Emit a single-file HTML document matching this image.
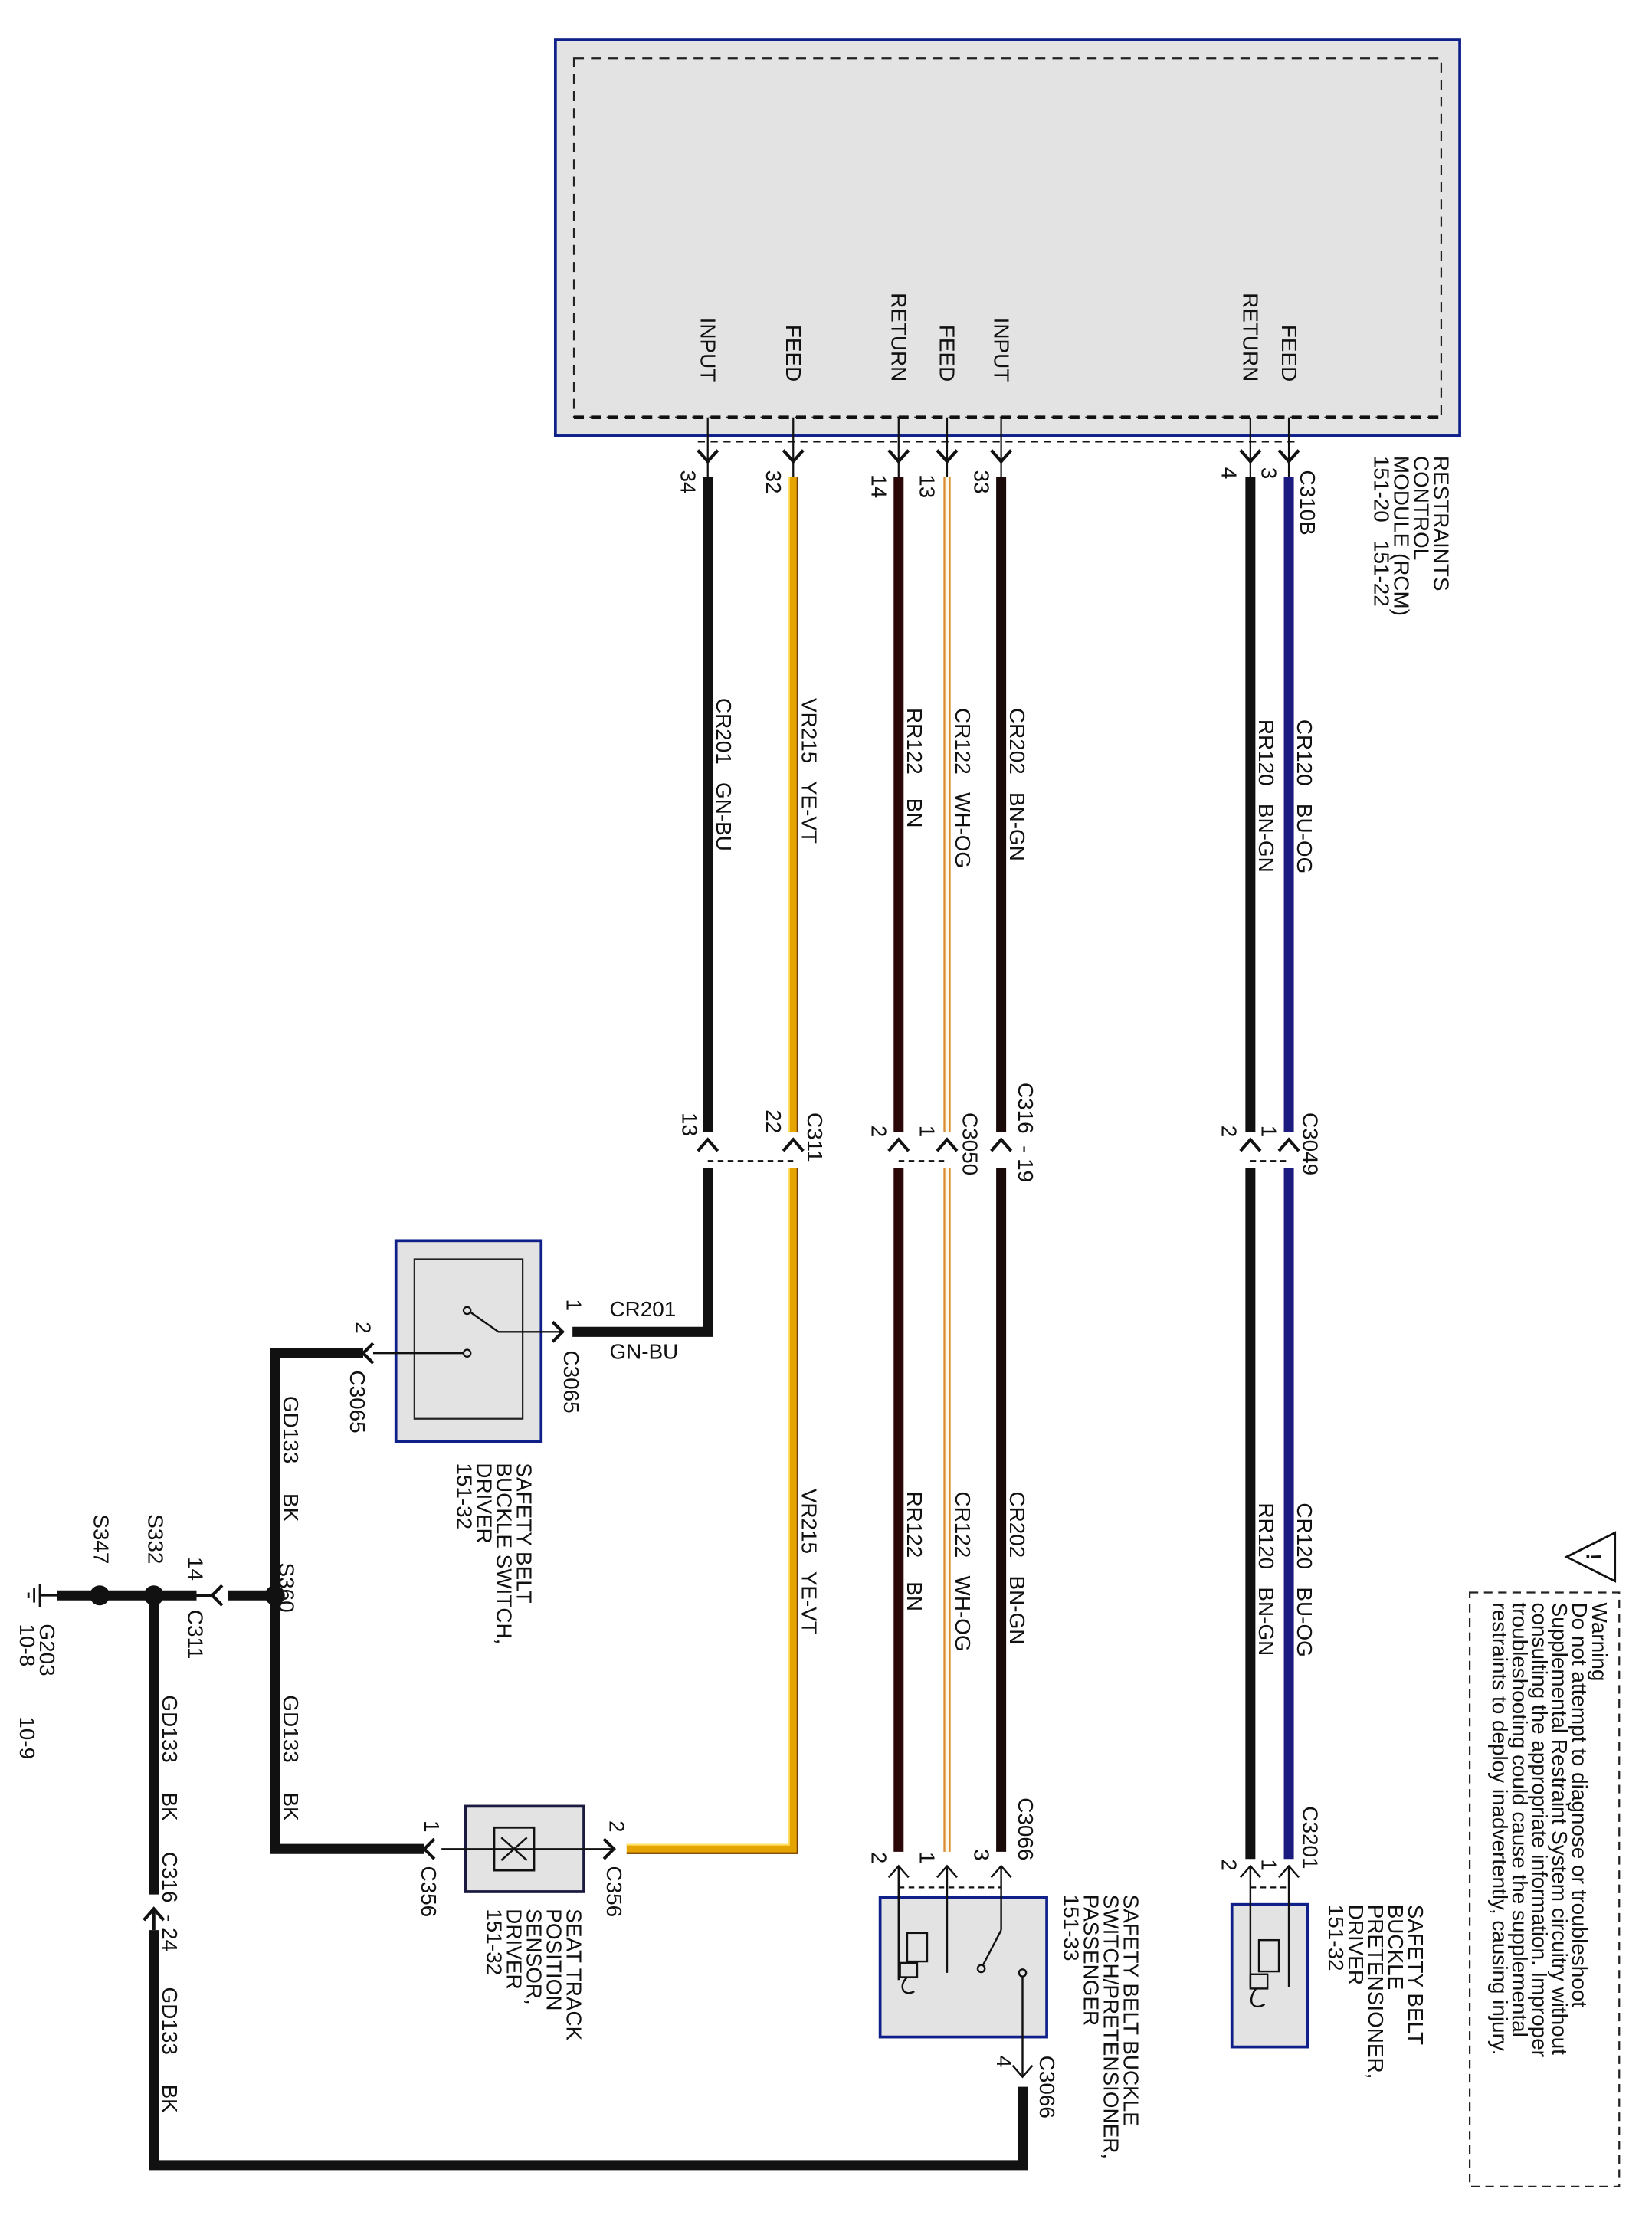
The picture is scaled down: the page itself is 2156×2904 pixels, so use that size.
<!DOCTYPE html>
<html><head><meta charset="utf-8"><style>
html,body{margin:0;padding:0;background:#fff}
svg{display:block}
text{font-family:"Liberation Sans",Arial,sans-serif;font-size:15px;fill:#111;white-space:pre}
</style></head><body>
<svg width="2156" height="2904" viewBox="0 0 1160 1562" preserveAspectRatio="none" xmlns="http://www.w3.org/2000/svg" xml:space="preserve">
<rect width="1160" height="1562" fill="#fff"/>
<rect x="390" y="28" width="635" height="278" fill="#e3e3e3" stroke="#10208a" stroke-width="2"/>
<rect x="403" y="41" width="609" height="252" fill="none" stroke="#222" stroke-width="1.2" stroke-dasharray="7,5"/>
<line x1="403" y1="293" x2="1012" y2="293" stroke="#111" stroke-width="2.5" stroke-dasharray="7,5"/>
<line x1="490" y1="310" x2="912" y2="310" stroke="#111" stroke-width="1.2" stroke-dasharray="5,4"/>
<g stroke="#111" stroke-width="1.2" fill="none">
<line x1="497" y1="293" x2="497" y2="335"/><line x1="557" y1="293" x2="557" y2="335"/>
<line x1="631" y1="293" x2="631" y2="335"/><line x1="665" y1="293" x2="665" y2="335"/>
<line x1="703" y1="293" x2="703" y2="335"/><line x1="878" y1="293" x2="878" y2="335"/>
<line x1="905" y1="293" x2="905" y2="335"/>
</g>
<g stroke="#111" stroke-width="2.2" fill="none">
<path d="M490,316 L497,324 L504,316"/><path d="M550,316 L557,324 L564,316"/>
<path d="M624,316 L631,324 L638,316"/><path d="M658,316 L665,324 L672,316"/>
<path d="M696,316 L703,324 L710,316"/><path d="M871,316 L878,324 L885,316"/>
<path d="M898,316 L905,324 L912,316"/>
</g>
<g>
<text transform="translate(492,268) rotate(90)" text-anchor="end">INPUT</text>
<text transform="translate(552,268) rotate(90)" text-anchor="end">FEED</text>
<text transform="translate(626,268) rotate(90)" text-anchor="end">RETURN</text>
<text transform="translate(660,268) rotate(90)" text-anchor="end">FEED</text>
<text transform="translate(698,268) rotate(90)" text-anchor="end">INPUT</text>
<text transform="translate(873,268) rotate(90)" text-anchor="end">RETURN</text>
<text transform="translate(900,268) rotate(90)" text-anchor="end">FEED</text>
</g>
<g font-size="14">
<text transform="translate(1007,320) rotate(90)">RESTRAINTS</text>
<text transform="translate(993,320) rotate(90)">CONTROL</text>
<text transform="translate(979,320) rotate(90)">MODULE (RCM)</text>
<text transform="translate(965,320) rotate(90)">151-20   151-22</text>
<text transform="translate(913,330) rotate(90)">C310B</text>
<text transform="translate(478,330) rotate(90)">34</text>
<text transform="translate(538,330) rotate(90)">32</text>
<text transform="translate(612,333) rotate(90)">14</text>
<text transform="translate(646,333) rotate(90)">13</text>
<text transform="translate(684,330) rotate(90)">33</text>
<text transform="translate(858,328) rotate(90)">4</text>
<text transform="translate(886,328) rotate(90)">3</text>
</g>
<g>
<line x1="497" y1="335" x2="497" y2="795" stroke="#111" stroke-width="7"/>
<line x1="557" y1="335" x2="557" y2="795" stroke="#e6a400" stroke-width="7"/>
<line x1="560" y1="335" x2="560" y2="795" stroke="#7a4000" stroke-width="1.2"/>
<line x1="554" y1="335" x2="554" y2="795" stroke="#ffe060" stroke-width="1.2"/>
<line x1="631" y1="335" x2="631" y2="795" stroke="#2b0808" stroke-width="7"/>
<line x1="665" y1="335" x2="665" y2="795" stroke="#d98c30" stroke-width="5"/>
<line x1="665" y1="335" x2="665" y2="795" stroke="#fff8e8" stroke-width="2.5"/>
<line x1="703" y1="335" x2="703" y2="795" stroke="#1a0a0a" stroke-width="7"/>
<line x1="878" y1="335" x2="878" y2="795" stroke="#111" stroke-width="7"/>
<line x1="905" y1="335" x2="905" y2="795" stroke="#1a1a80" stroke-width="7"/>
</g>
<g stroke="#111" stroke-width="2.2" fill="none">
<path d="M490,808 L497,800 L504,808"/><path d="M550,808 L557,800 L564,808"/>
<path d="M624,808 L631,800 L638,808"/><path d="M658,808 L665,800 L672,808"/>
<path d="M696,808 L703,800 L710,808"/><path d="M871,808 L878,800 L885,808"/>
<path d="M898,808 L905,800 L912,808"/>
</g>
<g stroke="#111" stroke-width="1.2" stroke-dasharray="4,3">
<line x1="497" y1="815" x2="557" y2="815"/><line x1="631" y1="815" x2="665" y2="815"/>
<line x1="878" y1="815" x2="905" y2="815"/>
</g>
<g font-size="14">
<text transform="translate(479,781) rotate(90)">13</text>
<text transform="translate(538,779) rotate(90)">22</text>
<text transform="translate(567,781) rotate(90)">C311</text>
<text transform="translate(612,790) rotate(90)">2</text>
<text transform="translate(646,790) rotate(90)">1</text>
<text transform="translate(676,781) rotate(90)">C3050</text>
<text transform="translate(715,760) rotate(90)">C316  - 19</text>
<text transform="translate(858,790) rotate(90)">2</text>
<text transform="translate(886,790) rotate(90)">1</text>
<text transform="translate(915,781) rotate(90)">C3049</text>
</g>
<g font-size="15">
<text transform="translate(503,490) rotate(90)">CR201   GN-BU</text>
<text transform="translate(563,490) rotate(90)">VR215   YE-VT</text>
<text transform="translate(637,497) rotate(90)">RR122    BN</text>
<text transform="translate(671,497) rotate(90)">CR122   WH-OG</text>
<text transform="translate(709,497) rotate(90)">CR202   BN-GN</text>
<text transform="translate(884,505) rotate(90)">RR120   BN-GN</text>
<text transform="translate(911,505) rotate(90)">CR120   BU-OG</text>
<text transform="translate(563,1045) rotate(90)">VR215   YE-VT</text>
<text transform="translate(637,1047) rotate(90)">RR122    BN</text>
<text transform="translate(671,1047) rotate(90)">CR122   WH-OG</text>
<text transform="translate(709,1047) rotate(90)">CR202   BN-GN</text>
<text transform="translate(884,1055) rotate(90)">RR120   BN-GN</text>
<text transform="translate(911,1055) rotate(90)">CR120   BU-OG</text>
</g>
<g fill="none">
<polyline points="497,820 497,935 402,935" stroke="#111" stroke-width="7"/>
<polyline points="557,820 557,1298 440,1298" stroke="#e6a400" stroke-width="7"/>
<polyline points="560,820 560,1301 440,1301" stroke="#7a4000" stroke-width="1.2"/>
<polyline points="554,820 554,1295 440,1295" stroke="#ffe060" stroke-width="1.2"/>
<line x1="631" y1="820" x2="631" y2="1300" stroke="#2b0808" stroke-width="7"/>
<line x1="665" y1="820" x2="665" y2="1300" stroke="#d98c30" stroke-width="5"/>
<line x1="665" y1="820" x2="665" y2="1300" stroke="#fff8e8" stroke-width="2.5"/>
<line x1="703" y1="820" x2="703" y2="1300" stroke="#1a0a0a" stroke-width="7"/>
<line x1="878" y1="820" x2="878" y2="1305" stroke="#111" stroke-width="7"/>
<line x1="905" y1="820" x2="905" y2="1305" stroke="#1a1a80" stroke-width="7"/>
<polyline points="255,950 193,950 193,1298 298,1298" stroke="#111" stroke-width="7"/>
<line x1="40" y1="1120" x2="190" y2="1120" stroke="#111" stroke-width="7"/>
<polyline points="108,1120 108,1330" stroke="#111" stroke-width="7"/>
<polyline points="108,1355 108,1520 718,1520 718,1465" stroke="#111" stroke-width="7"/>
</g>
<circle cx="193" cy="1120" r="7" fill="#111"/>
<circle cx="108" cy="1120" r="7" fill="#111"/>
<circle cx="70" cy="1120" r="7" fill="#111"/>
<rect x="138" y="1115" width="22" height="10" fill="#fff"/>
<path d="M156,1113 L149,1120 L156,1127 M149,1120 L138,1120" stroke="#111" stroke-width="2.2" fill="none"/>
<g stroke="#111" stroke-width="1.5"><line x1="28" y1="1120" x2="40" y2="1120"/><line x1="28" y1="1112" x2="28" y2="1128"/><line x1="24" y1="1115" x2="24" y2="1125"/><line x1="20" y1="1118" x2="20" y2="1122"/></g>
<rect x="100" y="1332" width="16" height="20" fill="#fff"/>
<path d="M101,1348 L108,1340 L115,1348 M108,1340 L108,1355" stroke="#111" stroke-width="2.2" fill="none"/>
<g font-size="14">
<text transform="translate(196,1097) rotate(90)">S360</text>
<text transform="translate(132,1093) rotate(90)">14</text>
<text transform="translate(132,1130) rotate(90)">C311</text>
<text transform="translate(104,1063) rotate(90)">S332</text>
<text transform="translate(66,1063) rotate(90)">S347</text>
<text transform="translate(28,1140) rotate(90)">G203</text>
<text transform="translate(14,1140) rotate(90)">10-8</text>
<text transform="translate(14,1205) rotate(90)">10-9</text>
<text transform="translate(199,980) rotate(90)">GD133     BK</text>
<text transform="translate(199,1190) rotate(90)">GD133     BK</text>
<text transform="translate(114,1190) rotate(90)">GD133     BK</text>
<text transform="translate(114,1300) rotate(90)">C316  - 24</text>
<text transform="translate(114,1395) rotate(90)">GD133     BK</text>
</g>
<rect x="278" y="871" width="102" height="141" fill="#e3e3e3" stroke="#10208a" stroke-width="2"/>
<rect x="291" y="884" width="76" height="112" fill="none" stroke="#222" stroke-width="1.2"/>
<circle cx="328" cy="920" r="2.5" fill="none" stroke="#111" stroke-width="1.2"/>
<circle cx="328" cy="950" r="2.5" fill="none" stroke="#111" stroke-width="1.2"/>
<path d="M330,921 L350,935 L395,935 M326,950 L262,950" stroke="#111" stroke-width="1.3" fill="none"/>
<path d="M388,928 L395,935 L388,942 M262,943 L255,950 L262,957" stroke="#111" stroke-width="2.2" fill="none"/>
<g font-size="14">
<text transform="translate(398,912) rotate(90)">1</text>
<text transform="translate(396,948) rotate(90)">C3065</text>
<text transform="translate(250,928) rotate(90)">2</text>
<text transform="translate(246,962) rotate(90)">C3065</text>
<text font-size="15" x="428" y="924">CR201</text>
<text font-size="15" x="428" y="954">GN-BU</text>
<text transform="translate(363,1027) rotate(90)">SAFETY BELT</text>
<text transform="translate(349,1027) rotate(90)">BUCKLE SWITCH,</text>
<text transform="translate(335,1027) rotate(90)">DRIVER</text>
<text transform="translate(321,1027) rotate(90)">151-32</text>
</g>
<rect x="327" y="1268" width="83" height="60" fill="#e3e3e3" stroke="#1a1a40" stroke-width="2"/>
<rect x="347" y="1283" width="28" height="30" fill="none" stroke="#111" stroke-width="1.5"/>
<path d="M352,1290 L370,1306 M370,1290 L352,1306" stroke="#111" stroke-width="1.3"/>
<line x1="310" y1="1298" x2="430" y2="1298" stroke="#111" stroke-width="1.2"/>
<path d="M305,1291 L298,1298 L305,1305 M424,1291 L431,1298 L424,1305" stroke="#111" stroke-width="2.2" fill="none"/>
<g font-size="14">
<text transform="translate(298,1278) rotate(90)">1</text>
<text transform="translate(296,1310) rotate(90)">C356</text>
<text transform="translate(428,1278) rotate(90)">2</text>
<text transform="translate(426,1310) rotate(90)">C356</text>
<text transform="translate(398,1340) rotate(90)">SEAT TRACK</text>
<text transform="translate(384,1340) rotate(90)">POSITION</text>
<text transform="translate(370,1340) rotate(90)">SENSOR,</text>
<text transform="translate(356,1340) rotate(90)">DRIVER</text>
<text transform="translate(342,1340) rotate(90)">151-32</text>
</g>
<line x1="631" y1="1325" x2="703" y2="1325" stroke="#111" stroke-width="1.2" stroke-dasharray="4,3"/>
<rect x="618" y="1332" width="117" height="98" fill="#e3e3e3" stroke="#10208a" stroke-width="2"/>
<g stroke="#111" stroke-width="1.3" fill="none">
<path d="M624,1318 L631,1310 L638,1318 M658,1318 L665,1310 L672,1318 M696,1318 L703,1310 L710,1318"/>
<line x1="631" y1="1310" x2="631" y2="1390"/>
<line x1="665" y1="1310" x2="665" y2="1385"/>
<line x1="703" y1="1310" x2="703" y2="1355"/>
<path d="M703,1355 L690,1380"/>
<circle cx="689" cy="1382" r="2.5"/><circle cx="718" cy="1385" r="2.5"/>
<line x1="718" y1="1388" x2="718" y2="1458"/>
<path d="M711,1450 L718,1458 L725,1450"/>
<rect x="637" y="1357" width="14" height="20"/><rect x="632" y="1378" width="12" height="10"/>
<path d="M637,1388 C630,1395 635,1402 642,1398"/>
</g>
<g font-size="14">
<text transform="translate(612,1300) rotate(90)">2</text>
<text transform="translate(646,1300) rotate(90)">1</text>
<text transform="translate(684,1298) rotate(90)">3</text>
<text transform="translate(715,1262) rotate(90)">C3066</text>
<text transform="translate(700,1443) rotate(90)">4</text>
<text transform="translate(730,1443) rotate(90)">C3066</text>
<text transform="translate(789,1330) rotate(90)">SAFETY BELT BUCKLE</text>
<text transform="translate(775,1330) rotate(90)">SWITCH/PRETENSIONER,</text>
<text transform="translate(761,1330) rotate(90)">PASSENGER</text>
<text transform="translate(747,1330) rotate(90)">151-33</text>
</g>
<line x1="878" y1="1325" x2="905" y2="1325" stroke="#111" stroke-width="1.2" stroke-dasharray="4,3"/>
<rect x="865" y="1337" width="53" height="100" fill="#e3e3e3" stroke="#10208a" stroke-width="2"/>
<g stroke="#111" stroke-width="1.3" fill="none">
<path d="M871,1318 L878,1310 L885,1318 M898,1318 L905,1310 L912,1318"/>
<line x1="878" y1="1310" x2="878" y2="1395"/><line x1="905" y1="1310" x2="905" y2="1395"/>
<rect x="884" y="1362" width="14" height="22"/><rect x="878" y="1386" width="12" height="10"/>
<path d="M882,1396 C875,1405 880,1412 888,1407"/>
</g>
<g font-size="14">
<text transform="translate(858,1305) rotate(90)">2</text>
<text transform="translate(886,1305) rotate(90)">1</text>
<text transform="translate(915,1268) rotate(90)">C3201</text>
<text transform="translate(989,1337) rotate(90)">SAFETY BELT</text>
<text transform="translate(975,1337) rotate(90)">BUCKLE</text>
<text transform="translate(961,1337) rotate(90)">PRETENSIONER,</text>
<text transform="translate(947,1337) rotate(90)">DRIVER</text>
<text transform="translate(933,1337) rotate(90)">151-32</text>
</g>
<rect x="1032" y="1118" width="105" height="417" fill="none" stroke="#222" stroke-width="1.2" stroke-dasharray="6,4"/>
<path d="M1134,1076 L1134,1110 L1100,1093 Z" fill="none" stroke="#111" stroke-width="1.5"/>
<text font-size="16" font-weight="bold" transform="translate(1114,1093) rotate(90)" text-anchor="middle">!</text>
<g font-size="13">
<text transform="translate(1118,1125) rotate(90)">Warning</text>
<text transform="translate(1104,1125) rotate(90)">Do not attempt to diagnose or troubleshoot</text>
<text transform="translate(1090,1125) rotate(90)">Supplemental Restraint System circuitry without</text>
<text transform="translate(1076,1125) rotate(90)">consulting the appropriate information. Improper</text>
<text transform="translate(1062,1125) rotate(90)">troubleshooting could cause the supplemental</text>
<text transform="translate(1048,1125) rotate(90)">restraints to deploy inadvertently, causing injury.</text>
</g>
</svg>
</body></html>
